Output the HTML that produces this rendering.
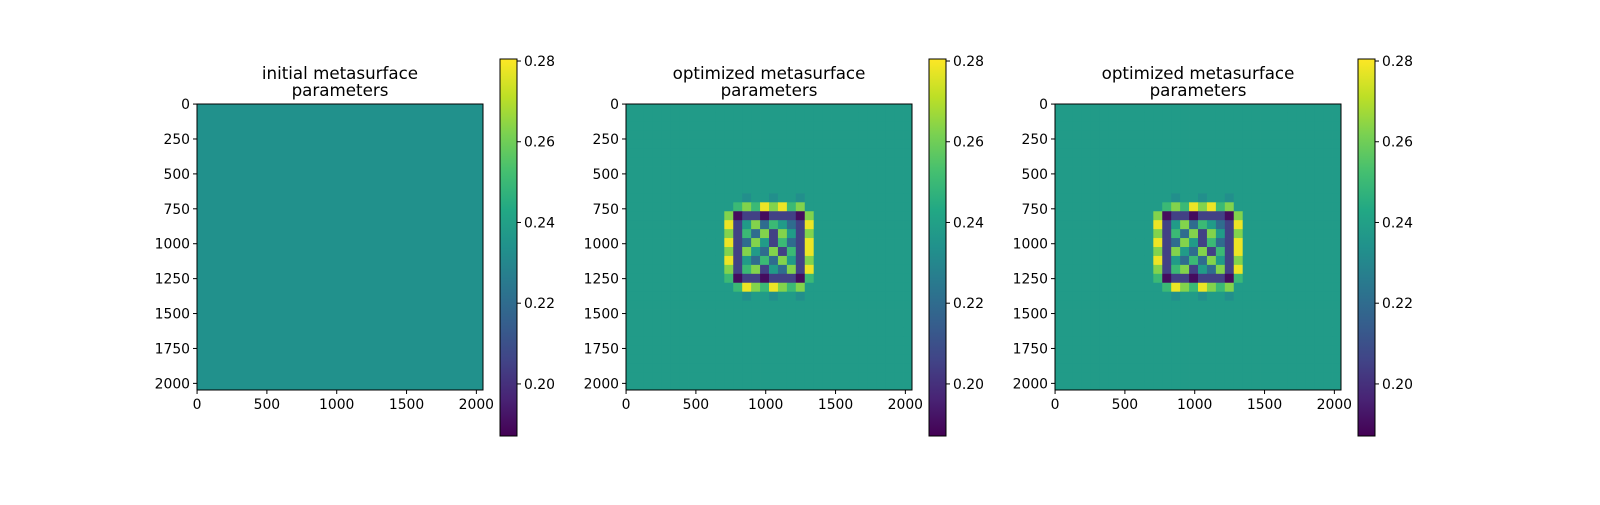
<!DOCTYPE html>
<html><head><meta charset="utf-8"><style>
body{margin:0;background:#fff;}
svg text{font-family:"DejaVu Sans","Liberation Sans",sans-serif;fill:#000;}
</style></head><body>
<svg id="fig" width="1600" height="500" xmlns="http://www.w3.org/2000/svg">
<defs>
<linearGradient id="vir" x1="0" y1="1" x2="0" y2="0">
<stop offset="0" stop-color="#440154"/><stop offset="0.1" stop-color="#482475"/><stop offset="0.2" stop-color="#414487"/><stop offset="0.3" stop-color="#355f8d"/><stop offset="0.4" stop-color="#2a788e"/><stop offset="0.5" stop-color="#21918c"/><stop offset="0.6" stop-color="#22a884"/><stop offset="0.7" stop-color="#44bf70"/><stop offset="0.8" stop-color="#7ad151"/><stop offset="0.9" stop-color="#bddf26"/><stop offset="1" stop-color="#fde725"/>
</linearGradient>
</defs>
</svg>
<script>
const xTicks=[0,500,1000,1500,2000];
const yTicks=[0,250,500,750,1000,1250,1500,1750,2000];
const cbTicks=[0.20,0.22,0.24,0.26,0.28];
const cbMin=0.1871, cbMax=0.2805;
const titles=[["initial metasurface","parameters"],["optimized metasurface","parameters"],["optimized metasurface","parameters"]];
const levelKeys="abcdefgh";
const levelValues=[0.19,0.205,0.22,0.233,0.238,0.25,0.263,0.278];
const initialValue=0.234;
const gridRows=[
"eeeeeeeeeeeeeeeeeeeeeeeeeeeeeeee",
"eeeeeeeeeeeeeeeeeeeeeeeeeeeeeeee",
"eeeeeeeeeeeeeeeeeeeeeeeeeeeeeeee",
"eeeeeeeeeeeeeeeeeeeeeeeeeeeeeeee",
"eeeeeeeeeeeeeeeeeeeeeeeeeeeeeeee",
"eeeeeeeeeeeeeeeeeeeeeeeeeeeeeeee",
"eeeeeeeeeeeeeeeeeeeeeeeeeeeeeeee",
"eeeeeeeeeeeeeeeeeeeeeeeeeeeeeeee",
"eeeeeeeeeeeeeeeeeeeeeeeeeeeeeeee",
"eeeeeeeeeeeeeeeeeeeeeeeeeeeeeeee",
"eeeeeeeeeeeeedeedeedeeeeeeeeeeee",
"eeeeeeeeeeeefgfhghfgeeeeeeeeeeee",
"eeeeeeeeeeegabbabbbageeeeeeeeeee",
"eeeeeeeeeeehbegcfecbheeeeeeeeeee",
"eeeeeeeeeeegbfcgbgebgeeeeeeeeeee",
"eeeeeeeeeeehbcgebfcbheeeeeeeeeee",
"eeeeeeeeeeegbgecgbfbheeeeeeeeeee",
"eeeeeeeeeeehbecfcgebgeeeeeeeeeee",
"eeeeeeeeeeegbfgbecgbheeeeeeeeeee",
"eeeeeeeeeeefabbabbbafeeeeeeeeeee",
"eeeeeeeeeeeefhgfhgfgeeeeeeeeeeee",
"eeeeeeeeeeeeedeedeedeeeeeeeeeeee",
"eeeeeeeeeeeeeeeeeeeeeeeeeeeeeeee",
"eeeeeeeeeeeeeeeeeeeeeeeeeeeeeeee",
"eeeeeeeeeeeeeeeeeeeeeeeeeeeeeeee",
"eeeeeeeeeeeeeeeeeeeeeeeeeeeeeeee",
"eeeeeeeeeeeeeeeeeeeeeeeeeeeeeeee",
"eeeeeeeeeeeeeeeeeeeeeeeeeeeeeeee",
"eeeeeeeeeeeeeeeeeeeeeeeeeeeeeeee",
"eeeeeeeeeeeeeeeeeeeeeeeeeeeeeeee",
"eeeeeeeeeeeeeeeeeeeeeeeeeeeeeeee",
"eeeeeeeeeeeeeeeeeeeeeeeeeeeeeeee"];

const V=[[68,1,84],[72,36,117],[65,68,135],[53,95,141],[42,120,142],[33,145,140],[34,168,132],[68,191,112],[122,209,81],[189,223,38],[253,231,37]];
function cmap(v){let t=(v-cbMin)/(cbMax-cbMin);t=Math.max(0,Math.min(1,t))*10;const i=Math.min(9,Math.floor(t)),f=t-i;const a=V[i],b=V[i+1];return `rgb(${a.map((c,k)=>Math.round(c+(b[k]-c)*f)).join(',')})`;}
const NS="http://www.w3.org/2000/svg";
const svg=document.getElementById('fig');
function mk(tag,attrs,parent){const e=document.createElementNS(NS,tag);for(const k in attrs)e.setAttribute(k,attrs[k]);(parent||svg).appendChild(e);return e;}
const S=286, top0=104, dataN=2048;
const panelsX=[197,626,1055];
panelsX.forEach((x0,p)=>{
  const g=mk('g',{});
  
  
  const sx=v=>x0+(v+0.5)/dataN*S, sy=v=>top0+(v+0.5)/dataN*S;
  if(p===0){
    const r=mk('rect',{x:x0,y:top0,width:S,height:S,fill:cmap(initialValue)},g);
    
    
  } else {
    const n=gridRows.length, cs=S/n;
    gridRows.forEach((row,i)=>{for(let j=0;j<row.length;j++){
      const v=levelValues[levelKeys.indexOf(row[j])];
      const c=mk('rect',{x:(x0+j*cs).toFixed(2),y:(top0+i*cs).toFixed(2),width:(cs+0.4).toFixed(2),height:(cs+0.4).toFixed(2),fill:cmap(v)},g);
      
      
    }});
  }
  const fr=mk('rect',{x:x0,y:top0,width:S,height:S,fill:'none',stroke:'#000','stroke-width':1},g);
  
  
  xTicks.forEach(t=>{const x=sx(t);mk('line',{x1:x,x2:x,y1:top0+S,y2:top0+S+4,stroke:'#000'},g);
    const tx=mk('text',{x:x,y:top0+S+19,'text-anchor':'middle','font-size':'13.9px'},g);tx.textContent=t;
    
    });
  yTicks.forEach(t=>{const y=sy(t);mk('line',{x1:x0-4,x2:x0,y1:y,y2:y,stroke:'#000'},g);
    const tx=mk('text',{x:x0-7,y:y+5,'text-anchor':'end','font-size':'13.9px'},g);tx.textContent=t;
    
    });
  titles[p].forEach((l,k)=>{const tx=mk('text',{x:x0+S/2,y:79+k*17,'text-anchor':'middle','font-size':'16.7px'},g);tx.textContent=l;
    
    });
  const cx=x0+303, cTop=59, cBot=436, cw=17;
  const cb=mk('rect',{x:cx,y:cTop,width:cw,height:cBot-cTop,fill:'url(#vir)',stroke:'#000','stroke-width':1},g);
  
  
  const cy=v=>cBot-(v-cbMin)/(cbMax-cbMin)*(cBot-cTop);
  cbTicks.forEach(t=>{const y=cy(t);mk('line',{x1:cx+cw,x2:cx+cw+4,y1:y,y2:y,stroke:'#000'},g);
    const tx=mk('text',{x:cx+cw+7,y:y+5,'font-size':'13.9px'},g);tx.textContent=t.toFixed(2);
    
    });
});
</script>
</body></html>
